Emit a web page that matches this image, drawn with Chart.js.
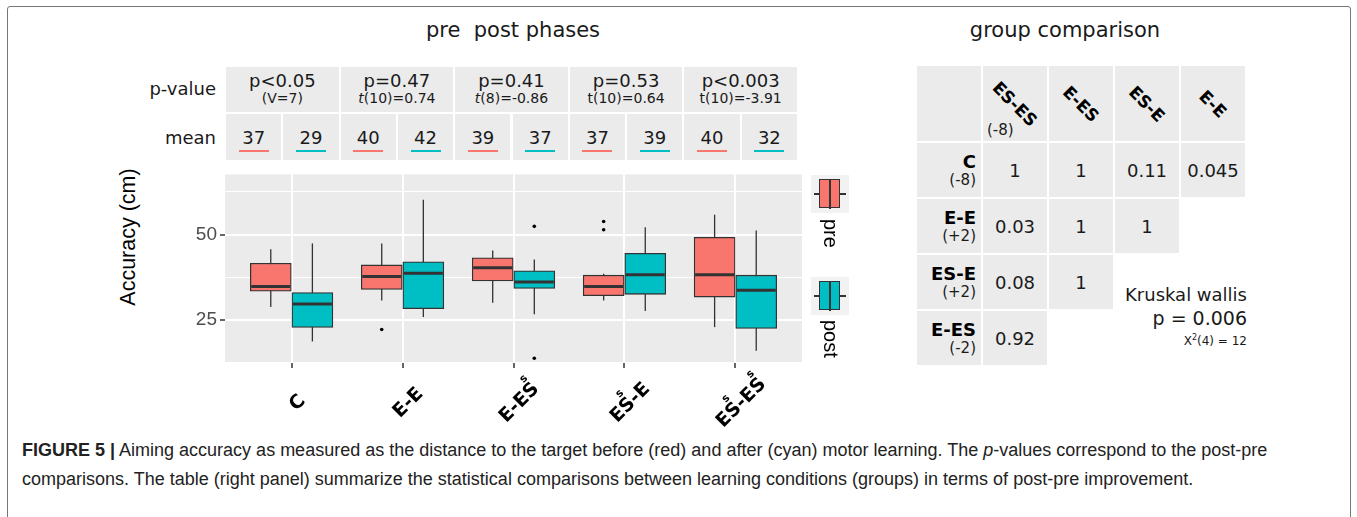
<!DOCTYPE html>
<html>
<head>
<meta charset="utf-8">
<title>Figure 5</title>
<script src="https://cdn.jsdelivr.net/npm/chart.js@4.4.1/dist/chart.umd.min.js"></script>
<style>
  body { margin: 0; width: 1357px; height: 517px; background: #fff; position: relative; overflow: hidden;
         font-family: "DejaVu Sans", sans-serif; color: #1a1a1a; }
  .abs { position: absolute; }
  #frame { left: 7px; top: 6px; width: 1342px; height: 540px; border: 1px solid #777; border-radius: 3px; }
  .title { top: 18px; font-size: 21px; transform: translateX(-50%); white-space: pre; }
  .rowlab { font-size: 18px; text-align: right; width: 120px; left: 96px; }
  .cell { background: #ebebeb; }
  .pcell { display: flex; flex-direction: column; align-items: center; justify-content: center; }
  .pcell .p { font-size: 18px; line-height: 19px; }
  .pcell .s { font-size: 14px; line-height: 17px; }
  .mcell .n { position: absolute; left: 0; right: 0; top: 14px; text-align: center; font-size: 18px; line-height: 20px; }
  .mcell .u { position: absolute; left: 50%; width: 30px; margin-left: -15px; top: 36px; height: 2px; }
  #ytitle { left: 128px; top: 237px; font-family: "Liberation Sans", Arial, sans-serif; font-size: 21.5px; color: #000;
            transform: translate(-50%, -50%) rotate(-90deg); white-space: nowrap; }
  .key { width: 38px; height: 38px; background: #f2f2f2; left: 811px; }
  .key .w { position: absolute; left: 3px; right: 3px; top: 18px; height: 1.5px; background: #333; }
  .key .b { position: absolute; left: 8px; width: 19px; top: 4px; height: 27px; border: 1.5px solid #333; }
  .key .m { position: absolute; left: 17.5px; width: 2.5px; top: 4px; height: 30px; background: #333; }
  .keylab { left: 830px; font-family: "Liberation Sans", Arial, sans-serif; font-size: 20px; color: #000;
            writing-mode: vertical-rl; transform: translateX(-50%); }
  .hcell span { position: absolute; left: 50%; top: 50%; font-weight: bold; font-size: 17px; white-space: nowrap;
                transform: translate(-50%, -50%) rotate(45deg); color: #000; }
  .hnote { font-size: 15px; }
  .rcell .h { position: absolute; right: 5px; top: 8px; font-weight: bold; font-size: 18px; color: #000; }
  .rcell .nt { position: absolute; right: 5px; top: 28px; font-size: 15px; }
  .vcell { display: flex; align-items: center; justify-content: center; font-size: 18px; }
  #kw { left: 1060px; width: 187px; text-align: right; top: 283px; }
  #caption { left: 22px; top: 436px; width: 1278px; font-family: "Liberation Sans", Arial, sans-serif;
             font-size: 18px; line-height: 29px; color: #222; }
</style>
</head>
<body>
<div id="frame" class="abs"></div>
<div class="abs title" style="left:513px">pre  post phases</div>
<div class="abs title" style="left:1065px">group comparison</div>
<div class="abs rowlab" style="top:78px">p-value</div>
<div class="abs rowlab" style="top:127px">mean</div>
<div id="ptable"></div>
<div id="ytitle" class="abs">Accuracy (cm)</div>
<canvas id="grafica" class="abs" width="760" height="275" style="left:100px; top:160px"></canvas>
<div id="legend"></div>
<div id="comp"></div>
<div id="kw" class="abs">
  <div style="font-size:18px; line-height:24px">Kruskal wallis</div>
  <div style="font-size:19px; line-height:22px">p = 0.006</div>
  <div style="font-size:12px; line-height:18px">X<sup style="font-size:8px">2</sup>(4) = 12</div>
</div>
<div id="caption" class="abs"><b>FIGURE 5 |</b> Aiming accuracy as measured as the distance to the target before (red) and after (cyan) motor learning. The <i>p</i>-values correspond to the post-pre comparisons. The table (right panel) summarize the statistical comparisons between learning conditions (groups) in terms of post-pre improvement.</div>

<script>
// grupos y valores
const categories = ['C', 'E-E', 'E-ES\u02E2', 'ES\u02E2-E', 'ES\u02E2-ES\u02E2'];
const preMin  = [28.8, 30.7, 30.0, 30.7, 22.9];
const preQ1   = [33.4, 33.9, 36.4, 32.1, 31.7];
const preMed  = [34.8, 37.7, 40.3, 34.8, 38.2];
const preQ3   = [41.6, 41.1, 43.2, 38.1, 49.2];
const preMax  = [45.7, 47.4, 45.3, 38.5, 55.8];
const postMin = [18.7, 25.9, 26.7, 27.6, 16.0];
const postQ1  = [22.8, 28.3, 34.2, 32.5, 22.5];
const postMed = [29.7, 38.7, 36.1, 38.2, 33.7];
const postQ3  = [33.0, 42.0, 39.4, 44.5, 38.1];
const postMax = [47.4, 60.2, 42.7, 52.1, 51.2];
const preOutliers  = [[], [22.2], [], [53.8, 51.4], []];
const postOutliers = [[], [], [52.4, 13.8], [], []];
const yTickLabels = [25, 50];

// tabla de p-values y medias
const pValues = ['p<0.05', 'p=0.47', 'p=0.41', 'p=0.53', 'p<0.003'];
const testStats = ['(V=7)', 't(10)=0.74', 't(8)=-0.86', 't(10)=0.64', 't(10)=-3.91'];
const italicT = [false, true, true, false, false];
const preMeans  = [37, 40, 39, 37, 40];
const postMeans = [29, 42, 37, 39, 32];

// tabla de comparacion de grupos
const compCols = ['ES-ES', 'E-ES', 'ES-E', 'E-E'];
const compColNotes = ['(-8)', '', '', ''];
const compRows = ['C', 'E-E', 'ES-E', 'E-ES'];
const compRowNotes = ['(-8)', '(+2)', '(+2)', '(-2)'];
const compValues = [
    ['1', '1', '0.11', '0.045'],
    ['0.03', '1', '1', null],
    ['0.08', '1', null, null],
    ['0.92', null, null, null]
];

const RED = '#F8766D';
const CYAN = '#00BFC4';
const DODGE = 0.1875;

// ---- tabla superior (html) ----
const ptable = document.getElementById('ptable');
const cellW = 112.6, gap = 2, tLeft = 226;
pValues.forEach((p, i) => {
    const left = tLeft + i * (cellW + gap);
    const c = document.createElement('div');
    c.className = 'abs cell pcell';
    c.style.cssText = `left:${left}px; top:66.5px; width:${cellW}px; height:45px;`;
    let stat = testStats[i];
    if (italicT[i]) stat = '<i>t</i>' + stat.slice(1);
    c.innerHTML = `<div class="p">${p}</div><div class="s">${stat}</div>`;
    ptable.appendChild(c);
    const half = (cellW - gap) / 2;
    [[preMeans[i], RED], [postMeans[i], CYAN]].forEach((m, k) => {
        const mc = document.createElement('div');
        mc.className = 'abs cell mcell';
        mc.style.cssText = `left:${left + k * (half + gap)}px; top:113.5px; width:${half}px; height:46px;`;
        mc.innerHTML = `<div class="n">${m[0]}</div><div class="u" style="background:${m[1]}"></div>`;
        ptable.appendChild(mc);
    });
});

// ---- leyenda ----
const legend = document.getElementById('legend');
[['pre', RED, 175, 219], ['post', CYAN, 277, 320]].forEach(l => {
    const k = document.createElement('div');
    k.className = 'abs key';
    k.style.top = l[2] + 'px';
    k.innerHTML = `<div class="w"></div><div class="b" style="background:${l[1]}"></div><div class="m"></div>`;
    legend.appendChild(k);
    const t = document.createElement('div');
    t.className = 'abs keylab';
    t.style.top = l[3] + 'px';
    t.textContent = l[0];
    legend.appendChild(t);
});

// ---- tabla derecha ----
const comp = document.getElementById('comp');
const cLeft = 917, cW = 64, cGap = 2, hTop = 66, hH = 75, rTop = 143, rH = 54;
const colX = k => cLeft + k * (cW + cGap);
let e = document.createElement('div');
e.className = 'abs cell';
e.style.cssText = `left:${colX(0)}px; top:${hTop}px; width:${cW}px; height:${hH}px;`;
comp.appendChild(e);
compCols.forEach((name, k) => {
    const h = document.createElement('div');
    h.className = 'abs cell hcell';
    h.style.cssText = `left:${colX(k + 1)}px; top:${hTop}px; width:${cW}px; height:${hH}px;`;
    h.innerHTML = `<span>${name}</span>` +
        (compColNotes[k] ? `<div class="abs hnote" style="left:4px; bottom:2px">${compColNotes[k]}</div>` : '');
    comp.appendChild(h);
});
compRows.forEach((name, r) => {
    const top = rTop + r * (rH + cGap);
    const rc = document.createElement('div');
    rc.className = 'abs cell rcell';
    rc.style.cssText = `left:${colX(0)}px; top:${top}px; width:${cW}px; height:${rH}px;`;
    rc.innerHTML = `<div class="h">${name}</div><div class="nt">${compRowNotes[r]}</div>`;
    comp.appendChild(rc);
    compValues[r].forEach((v, k) => {
        if (v === null) return;
        const vc = document.createElement('div');
        vc.className = 'abs cell vcell';
        vc.style.cssText = `left:${colX(k + 1)}px; top:${top}px; width:${cW}px; height:${rH}px;`;
        vc.textContent = v;
        comp.appendChild(vc);
    });
});

// ---- grafica de cajas ----
const boxGroups = [
    {dataset: 0, min: preMin, q1: preQ1, med: preMed, q3: preQ3, max: preMax},
    {dataset: 1, min: postMin, q1: postQ1, med: postMed, q3: postQ3, max: postMax}
];

const panelFondo = {
    id: 'panelFondo',
    beforeDraw(chart) {
        const {ctx, chartArea: a} = chart;
        ctx.save();
        ctx.fillStyle = '#ebebeb';
        ctx.fillRect(a.left, a.top, a.right - a.left, a.bottom - a.top);
        ctx.restore();
    }
};

const bigotes = {
    id: 'bigotes',
    beforeDatasetsDraw(chart) {
        const {ctx, scales: {y}} = chart;
        ctx.save();
        ctx.strokeStyle = '#333';
        ctx.lineWidth = 1.3;
        boxGroups.forEach(g => {
            chart.getDatasetMeta(g.dataset).data.forEach((bar, i) => {
                ctx.beginPath();
                ctx.moveTo(bar.x, y.getPixelForValue(g.min[i]));
                ctx.lineTo(bar.x, y.getPixelForValue(g.max[i]));
                ctx.stroke();
            });
        });
        ctx.restore();
    },
    afterDatasetsDraw(chart) {
        const {ctx, scales: {y}} = chart;
        ctx.save();
        ctx.strokeStyle = '#333';
        ctx.lineWidth = 3;
        boxGroups.forEach(g => {
            chart.getDatasetMeta(g.dataset).data.forEach((bar, i) => {
                const py = y.getPixelForValue(g.med[i]);
                ctx.beginPath();
                ctx.moveTo(bar.x - bar.width / 2 + 1, py);
                ctx.lineTo(bar.x + bar.width / 2 - 1, py);
                ctx.stroke();
            });
        });
        ctx.restore();
    }
};

// etiquetas del eje x giradas, con la "s" pequeña encima de la S
const etiquetasX = {
    id: 'etiquetasX',
    afterDraw(chart) {
        const {ctx, chartArea: a, scales: {x}} = chart;
        const big = 'bold 19px "DejaVu Sans"';
        const small = 'bold 11px "DejaVu Sans"';
        ctx.save();
        ctx.fillStyle = '#000';
        ctx.textBaseline = 'middle';
        x.ticks.forEach(t => {
            const label = categories[t.value];
            let base = '';
            const marks = [];
            for (const ch of label) {
                if (ch === '\u02E2') marks.push(base.length); else base += ch;
            }
            const px = x.getPixelForValue(t.value);
            ctx.save();
            ctx.translate(px + 6, a.bottom + 40);
            ctx.rotate(-Math.PI / 4);
            ctx.font = big;
            ctx.textAlign = 'left';
            const w = ctx.measureText(base).width;
            ctx.fillText(base, -w / 2, 0);
            marks.forEach(pos => {
                ctx.font = big;
                const end = ctx.measureText(base.slice(0, pos)).width;
                const sw = ctx.measureText(base[pos - 1]).width;
                ctx.font = small;
                ctx.textAlign = 'center';
                ctx.fillText('s', -w / 2 + end - sw / 2 + 3, -14);
                ctx.textAlign = 'left';
            });
            ctx.restore();
        });
        ctx.restore();
    }
};

const outlierPoints = [];
categories.forEach((c, i) => {
    preOutliers[i].forEach(v => outlierPoints.push({x: i - DODGE, y: v}));
    postOutliers[i].forEach(v => outlierPoints.push({x: i + DODGE, y: v}));
});

const $grafica = document.querySelector('#grafica');
new Chart($grafica, {
    type: 'bar',
    data: {
        datasets: [
            {
                label: 'pre',
                data: categories.map((c, i) => ({x: i - DODGE, y: [preQ1[i], preQ3[i]]})),
                backgroundColor: RED,
                borderColor: '#333',
                borderWidth: 1.3,
                borderSkipped: false,
                barThickness: 41,
                grouped: false
            },
            {
                label: 'post',
                data: categories.map((c, i) => ({x: i + DODGE, y: [postQ1[i], postQ3[i]]})),
                backgroundColor: CYAN,
                borderColor: '#333',
                borderWidth: 1.3,
                borderSkipped: false,
                barThickness: 41,
                grouped: false
            },
            {
                type: 'scatter',
                label: 'outliers',
                data: outlierPoints,
                backgroundColor: '#000',
                borderWidth: 0,
                pointRadius: 1.8
            }
        ]
    },
    options: {
        responsive: false,
        animation: false,
        events: [],
        layout: {padding: {top: 8, right: 58, left: 0, bottom: 0}},
        plugins: {legend: {display: false}, tooltip: {enabled: false}},
        scales: {
            x: {
                type: 'linear',
                min: -0.6,
                max: 4.6,
                offset: false,
                border: {display: false},
                grid: {offset: false, color: '#fff', lineWidth: 2, drawTicks: true, tickLength: 5, tickColor: '#333', tickWidth: 1.5},
                ticks: {stepSize: 1, includeBounds: false, display: false},
                afterFit(scale) { scale.height = 72; }
            },
            y: {
                min: 12.4,
                max: 67.6,
                border: {display: false},
                grid: {
                    color: '#fff',
                    lineWidth: c => (c.tick && yTickLabels.includes(c.tick.value)) ? 2 : 1,
                    tickLength: 5,
                    tickWidth: 1.5,
                    tickColor: c => (c.tick && yTickLabels.includes(c.tick.value)) ? '#333' : 'rgba(0,0,0,0)'
                },
                ticks: {
                    stepSize: 12.5,
                    includeBounds: false,
                    padding: 3,
                    color: '#4d4d4d',
                    font: {family: '"Liberation Sans", Arial, sans-serif', size: 19},
                    callback: v => yTickLabels.includes(v) ? v : ''
                },
                afterFit(scale) { scale.width = 125; }
            }
        }
    },
    plugins: [panelFondo, bigotes, etiquetasX]
});
</script>
</body>
</html>
